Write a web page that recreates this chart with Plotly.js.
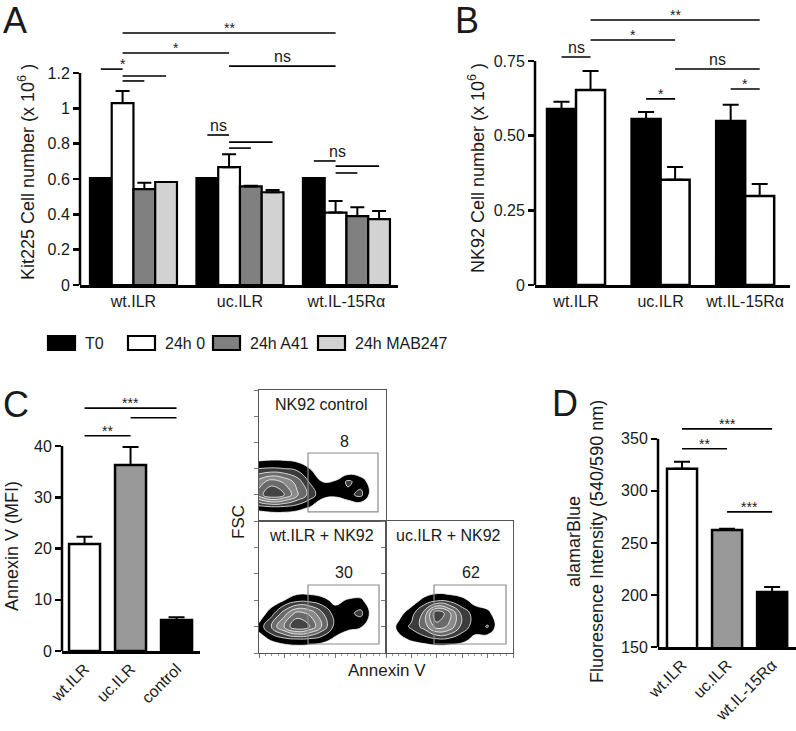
<!DOCTYPE html>
<html><head><meta charset="utf-8">
<script src="https://cdn.plot.ly/plotly-3.0.1.min.js"></script>
<style>html,body{margin:0;padding:0;background:#fff}#chart{width:796px;height:731px}</style>
</head><body><div id="chart"></div>
<script>
// ================= DATA =================
// Panel A: Kit225 cell number (x10^6)
const groupsA = ['wt.ILR', 'uc.ILR', 'wt.IL-15Rα'];
const seriesA = ['T0', '24h 0', '24h A41', '24h MAB247'];
const valA_T0   = [0.605, 0.605, 0.605];
const valA_24h0 = [1.03, 0.667, 0.41];
const valA_A41  = [0.543, 0.558, 0.39];
const valA_MAB  = [0.583, 0.525, 0.373];
const errA_T0   = [0, 0, 0];
const errA_24h0 = [0.068, 0.073, 0.066];
const errA_A41  = [0.036, 0.004, 0.05];
const errA_MAB  = [0, 0.013, 0.046];

// Panel B: NK92 cell number (x10^6)
const groupsB = ['wt.ILR', 'uc.ILR', 'wt.IL-15Rα'];
const seriesB = ['T0', '24h 0'];
const valB_T0   = [0.589, 0.556, 0.549];
const valB_24h0 = [0.653, 0.352, 0.298];
const errB_T0   = [0.024, 0.023, 0.054];
const errB_24h0 = [0.063, 0.043, 0.040];

// Panel C: Annexin V (MFI)
const catsC = ['wt.ILR', 'uc.ILR', 'control'];
const valC  = [20.9, 36.3, 6.05];
const errC  = [1.4, 3.5, 0.55];

// Panel D: alamarBlue fluorescence intensity
const catsD = ['wt.ILR', 'uc.ILR', 'wt.IL-15Rα'];
const valD  = [321.2, 262.5, 202.9];
const errD  = [6.7, 1.0, 4.8];

// Significance brackets (group / series references, height in axis units)
const sigA = [
  {g0:0,s0:1,g1:2,s1:1,y:1.426,t:'**'},
  {g0:0,s0:1,g1:1,s1:1,y:1.313,t:'*'},
  {g0:1,s0:1,g1:2,s1:1,y:1.239,t:'ns'},
  {g0:0,s0:0,g1:0,s1:1,y:1.222,t:'*',at:1},
  {g0:0,s0:1,g1:0,s1:3,y:1.183,t:''},
  {g0:0,s0:1,g1:0,s1:2,y:1.155,t:''},
  {g0:1,s0:0,g1:1,s1:1,y:0.849,t:'ns'},
  {g0:1,s0:1,g1:1,s1:3,y:0.809,t:''},
  {g0:1,s0:1,g1:1,s1:2,y:0.775,t:''},
  {g0:2,s0:0,g1:2,s1:1,y:0.702,t:'ns',at:1.1},
  {g0:2,s0:1,g1:2,s1:3,y:0.673,t:''},
  {g0:2,s0:1,g1:2,s1:2,y:0.634,t:''}
];
const sigB = [
  {g0:0,s0:0,g1:0,s1:1,y:0.763,t:'ns'},
  {g0:0,s0:1,g1:2,s1:1,y:0.887,t:'**'},
  {g0:0,s0:1,g1:1,s1:1,y:0.820,t:'*'},
  {g0:1,s0:1,g1:2,s1:1,y:0.723,t:'ns'},
  {g0:1,s0:0,g1:1,s1:1,y:0.623,t:'*'},
  {g0:2,s0:0,g1:2,s1:1,y:0.656,t:'*'}
];
const sigC = [
  {g0:0,s0:0,g1:2,s1:0,y:47.4,t:'***'},
  {g0:1,s0:0,g1:2,s1:0,y:45.5,t:''},
  {g0:0,s0:0,g1:1,s1:0,y:42.0,t:'**'}
];
const sigD = [
  {g0:0,s0:0,g1:2,s1:0,y:359.6,t:'***'},
  {g0:0,s0:0,g1:1,s1:0,y:340.4,t:'**'},
  {g0:1,s0:0,g1:2,s1:0,y:279.8,t:'***'}
];

// Flow cytometry (estimated density grids, Annexin V vs FSC)
const flowX = [0,1,2,3,4,5,6,7,8,9,10];
const flowY = [0,1,2,3,4,5,6];
const flowControl = [
  [0,0,0,0,0,0,0,0,0,0,0],
  [1.3,1.5,1.5,1.3,0.9,0.3,0,0,0,0,0],
  [5.5,7,6,4.2,2.6,1.3,1.2,1.7,2.3,0.3,0],
  [4.5,5.5,4.8,3.6,1.9,1.0,1.1,2.2,1.6,0.3,0],
  [2.0,2.1,2.0,1.7,1.0,0.3,0,0,0,0,0],
  [0.3,0.4,0.4,0.3,0,0,0,0,0,0,0],
  [0,0,0,0,0,0,0,0,0,0,0]
];
const flowWt = [
  [0,0,0,0,0,0,0,0,0,0,0],
  [0.6,1.1,1.5,1.7,1.6,1.3,0.8,0.3,0,0,0],
  [1.3,3.2,5.2,7,6,3.8,1.6,1.3,1.1,0.3,0],
  [0.3,1.6,3.6,5.4,4.8,3.1,1.5,1.7,2.3,0.4,0],
  [0,0.3,1.0,1.6,1.6,1.3,0.7,1.1,1.2,0.2,0],
  [0,0,0,0.2,0.2,0.1,0,0,0,0,0],
  [0,0,0,0,0,0,0,0,0,0,0]
];
const flowUc = [
  [0,0,0,0,0,0,0,0,0,0,0],
  [0,0.7,1.1,1.4,1.7,1.6,1.3,0.7,0.3,0,0],
  [0,1.3,2.2,3.4,5.5,4.8,2.6,1.5,2.1,0.2,0],
  [0,0.6,1.6,3.3,7,5.3,2.6,1.6,1.3,0.2,0],
  [0,0,0.4,1.3,1.7,1.6,1.3,0.6,0.3,0,0],
  [0,0,0,0,0.3,0.2,0,0,0,0,0],
  [0,0,0,0,0,0,0,0,0,0,0]
];
const flowTitles = ['NK92 control', 'wt.ILR + NK92', 'uc.ILR + NK92'];
const flowPct = ['8', '30', '62'];
const flowGates = [[3.86, 9.37, 0.69, 5.19], [3.86, 9.45, 0.68, 5.15], [3.78, 9.45, 0.68, 5.15]];

// ================= STYLE / LAYOUT CONSTANTS =================
const W = 796, H = 731;
const px = x => x / W;
const py = y => 1 - y / H;
const FONT = 'Liberation Sans, Arial, Helvetica, sans-serif';
const TXT = '#1a1a1a';
const colA = ['#000000', '#ffffff', '#808080', '#d2d2d2'];
const colB = ['#000000', '#ffffff'];
const colCD = ['#ffffff', '#999999', '#000000'];

const traces = [];
const shapes = [];
const annotations = [];

function barTraces(groups, vals, errs, names, colors, frac, xa, ya, lw, capw) {
  const n = vals.length, w = frac / n;
  vals.forEach((v, s) => {
    traces.push({
      type: 'bar', x: groups, y: v, name: names[s], xaxis: xa, yaxis: ya,
      width: w, offset: -frac / 2 + s * w,
      marker: {color: colors[s], line: {color: '#000', width: lw}},
      error_y: {type: 'data', array: errs[s], arrayminus: errs[s].map(() => 0), symmetric: false,
                color: '#000', thickness: 2, width: capw},
      hoverinfo: 'skip', showlegend: false
    });
  });
  return w;
}
function singleBars(cats, vals, errs, colors, frac, xa, ya, lw, capw) {
  traces.push({
    type: 'bar', x: cats, y: vals, xaxis: xa, yaxis: ya,
    width: frac, offset: -frac / 2,
    marker: {color: colors, line: {color: '#000', width: lw}},
    error_y: {type: 'data', array: errs, arrayminus: errs.map(() => 0), symmetric: false,
              color: '#000', thickness: 2, width: capw},
    hoverinfo: 'skip', showlegend: false
  });
}
function brackets(list, nSeries, w, xa, ya) {
  const c = (g, s) => g + (s - (nSeries - 1) / 2) * w;
  list.forEach(b => {
    const x0 = c(b.g0, b.s0), x1 = c(b.g1, b.s1);
    shapes.push({type: 'line', xref: xa, yref: ya, x0: x0, x1: x1, y0: b.y, y1: b.y,
                 line: {color: '#000', width: 1.6}});
    if (b.t) {
      const at = b.at === undefined ? 0.5 : b.at;
      const star = b.t.indexOf('*') >= 0;
      annotations.push({xref: xa, yref: ya, x: x0 + (x1 - x0) * at, y: b.y, text: b.t,
        showarrow: false, xanchor: 'center', yanchor: 'bottom', yshift: star ? -5 : -1,
        font: {family: FONT, size: star ? 14 : 16, color: TXT}});
    }
  });
}
function yLine(xa, ya, y0, y1) {
  shapes.push({type: 'line', xref: xa + ' domain', yref: ya, x0: 0, x1: 0, y0: y0, y1: y1,
               line: {color: '#000', width: 2.5}});
}

// ---- Panel A ----
const wA = barTraces(groupsA, [valA_T0, valA_24h0, valA_A41, valA_MAB],
  [errA_T0, errA_24h0, errA_A41, errA_MAB], seriesA, colA, 0.817, 'x', 'y', 2.2, 7);
brackets(sigA, 4, wA, 'x', 'y');
yLine('x', 'y', 0, 1.2);
// ---- Panel B ----
const wB = barTraces(groupsB, [valB_T0, valB_24h0], [errB_T0, errB_24h0], seriesB, colB,
  0.686, 'x2', 'y2', 2.5, 8);
brackets(sigB, 2, wB, 'x2', 'y2');
yLine('x2', 'y2', 0, 0.75);
// ---- Panel C ----
singleBars(catsC, valC, errC, colCD, 0.674, 'x3', 'y3', 2.5, 8);
brackets(sigC, 1, 0, 'x3', 'y3');
yLine('x3', 'y3', 0, 40);
// ---- Panel D ----
singleBars(catsD, valD, errD, colCD, 0.667, 'x4', 'y4', 2.5, 8);
brackets(sigD, 1, 0, 'x4', 'y4');
yLine('x4', 'y4', 150, 350);

// ---- Flow plots ----
const flowZ = [flowControl, flowWt, flowUc];
const flowScale = [
  [0, 'rgba(255,255,255,0)'], [1/9, '#000000'], [2/9, '#3c3c3c'], [3/9, '#6a6a6a'],
  [4/9, '#8a8a8a'], [5/9, '#6a6a6a'], [6/9, '#444444'], [7/9, '#2c2c2c'], [8/9, '#202020'], [1, '#1a1a1a']
];
flowZ.forEach((z, i) => {
  const k = i + 5;
  traces.push({
    type: 'contour', x: flowX, y: flowY, z: z, xaxis: 'x' + k, yaxis: 'y' + k,
    autocontour: false, contours: {start: 1, end: 9, size: 1, coloring: 'fill', showlines: true},
    line: {color: 'rgba(255,255,255,0.85)', width: 0.9, smoothing: 1.3},
    colorscale: flowScale, showscale: false, hoverinfo: 'skip'
  });
  const g = flowGates[i];
  shapes.push({type: 'rect', xref: 'x' + k, yref: 'y' + k, x0: g[0], x1: g[1], y0: g[2], y1: g[3],
               line: {color: '#8c8c8c', width: 1.2}, fillcolor: 'rgba(0,0,0,0)'});
  annotations.push({xref: 'x' + k, yref: 'y' + k, x: 4.96, y: 8.9, text: flowTitles[i], showarrow: false,
                    font: {family: FONT, size: 16, color: TXT}});
  annotations.push({xref: 'x' + k, yref: 'y' + k, x: 6.7, y: 6.1, text: flowPct[i], showarrow: false,
                    font: {family: FONT, size: 16, color: TXT}});
});

// ---- Legend (panel A) ----
const legendBoxX = [48, 128, 213, 318];
seriesA.forEach((name, s) => {
  shapes.push({type: 'rect', xref: 'paper', yref: 'paper', x0: px(legendBoxX[s]), x1: px(legendBoxX[s] + 27),
               y0: py(350), y1: py(336), fillcolor: colA[s], line: {color: '#000', width: 2.2}});
  annotations.push({xref: 'paper', yref: 'paper', x: px(legendBoxX[s] + 35), y: py(343), text: name,
                    showarrow: false, xanchor: 'left', yanchor: 'middle', font: {family: FONT, size: 16, color: TXT}});
});

// ---- Titles, panel letters ----
function txt(x, y, text, size, angle, extra) {
  annotations.push(Object.assign({xref: 'paper', yref: 'paper', x: px(x), y: py(y), text: text, showarrow: false,
    xanchor: 'center', yanchor: 'middle', textangle: angle || 0, font: {family: FONT, size: size, color: TXT}}, extra || {}));
}
txt(26, 172, 'Kit225 Cell number (x 10<sup>6</sup> )', 18, -90);
txt(476, 168, 'NK92 Cell number (x 10<sup>6</sup> )', 18, -90);
txt(12, 546, 'Annexin V (MFI)', 18, -90);
txt(585, 542, 'alamarBlue<br>Fluoresence Intensity (540/590 nm)', 18, -90);
txt(238, 522, 'FSC', 17, -90);
txt(387, 670, 'Annexin V', 17, 0);
txt(15, 21, 'A', 36);
txt(467, 21, 'B', 36);
txt(16, 404, 'C', 36);
txt(565, 403, 'D', 36);

// ================= AXES =================
const tickFont = {family: FONT, size: 16, color: TXT};
function barX(domain, range, anchor, angle) {
  return {domain: domain, range: range, anchor: anchor, type: 'category', showline: true, linewidth: 2.5,
          linecolor: '#000', ticks: '', showgrid: false, zeroline: false, tickfont: tickFont,
          tickangle: angle, fixedrange: true};
}
function barY(domain, range, anchor, tickvals, ticktext) {
  return {domain: domain, range: range, anchor: anchor, showline: false, ticks: 'outside', ticklen: 6,
          tickwidth: 2.5, tickcolor: '#000', tickvals: tickvals, ticktext: ticktext, showgrid: false,
          zeroline: false, tickfont: tickFont, fixedrange: true};
}
function flowAxis(domain, anchor, showTicks, minor) {
  const a = {domain: domain, range: [0, 10], anchor: anchor, showline: true, mirror: true, linecolor: '#555',
          linewidth: 1, showticklabels: false, showgrid: false, zeroline: false, fixedrange: true,
          ticks: showTicks ? 'outside' : '', ticklen: 4, tickcolor: '#777', tickwidth: 1, dtick: 2};
  if (minor && showTicks) a.minor = {ticks: 'outside', ticklen: 2, tickcolor: '#999', dtick: 0.5};
  return a;
}

const layout = {
  width: W, height: H, margin: {l: 0, r: 0, t: 0, b: 0}, paper_bgcolor: '#fff', plot_bgcolor: 'rgba(0,0,0,0)',
  showlegend: false, barmode: 'overlay', font: {family: FONT, color: TXT},
  xaxis:  barX([px(80), px(398)], [-0.502, 2.484], 'y', 0),
  yaxis:  barY([py(285), py(20)], [0, 1.5], 'x', [0, 0.2, 0.4, 0.6, 0.8, 1, 1.2]),
  xaxis2: barX([px(535), px(790)], [-0.485, 2.53], 'y2', 0),
  yaxis2: barY([py(285), py(1.2)], [0, 0.95], 'x2', [0, 0.25, 0.5, 0.75], ['0', '0.25', '0.50', '0.75']),
  xaxis3: barX([px(62), px(200)], [-0.49, 2.51], 'y3', -45),
  yaxis3: barY([py(651), py(384.5)], [0, 52], 'x3', [0, 10, 20, 30, 40]),
  xaxis4: barX([px(658), 1], [-0.533, 2.53], 'y4', -45),
  yaxis4: barY([py(647), py(418)], [150, 370], 'x4', [150, 200, 250, 300, 350]),
  xaxis5: flowAxis([px(259), px(386)], 'y5', false, true),
  yaxis5: flowAxis([py(521), py(390)], 'x5', true, false),
  xaxis6: flowAxis([px(259), px(386)], 'y6', true, true),
  yaxis6: flowAxis([py(653), py(521)], 'x6', true, false),
  xaxis7: flowAxis([px(386), px(513)], 'y7', true, true),
  yaxis7: flowAxis([py(653), py(521)], 'x7', true, false),
  shapes: shapes, annotations: annotations
};

Plotly.newPlot('chart', traces, layout, {staticPlot: true, displayModeBar: false});
</script></body></html>
